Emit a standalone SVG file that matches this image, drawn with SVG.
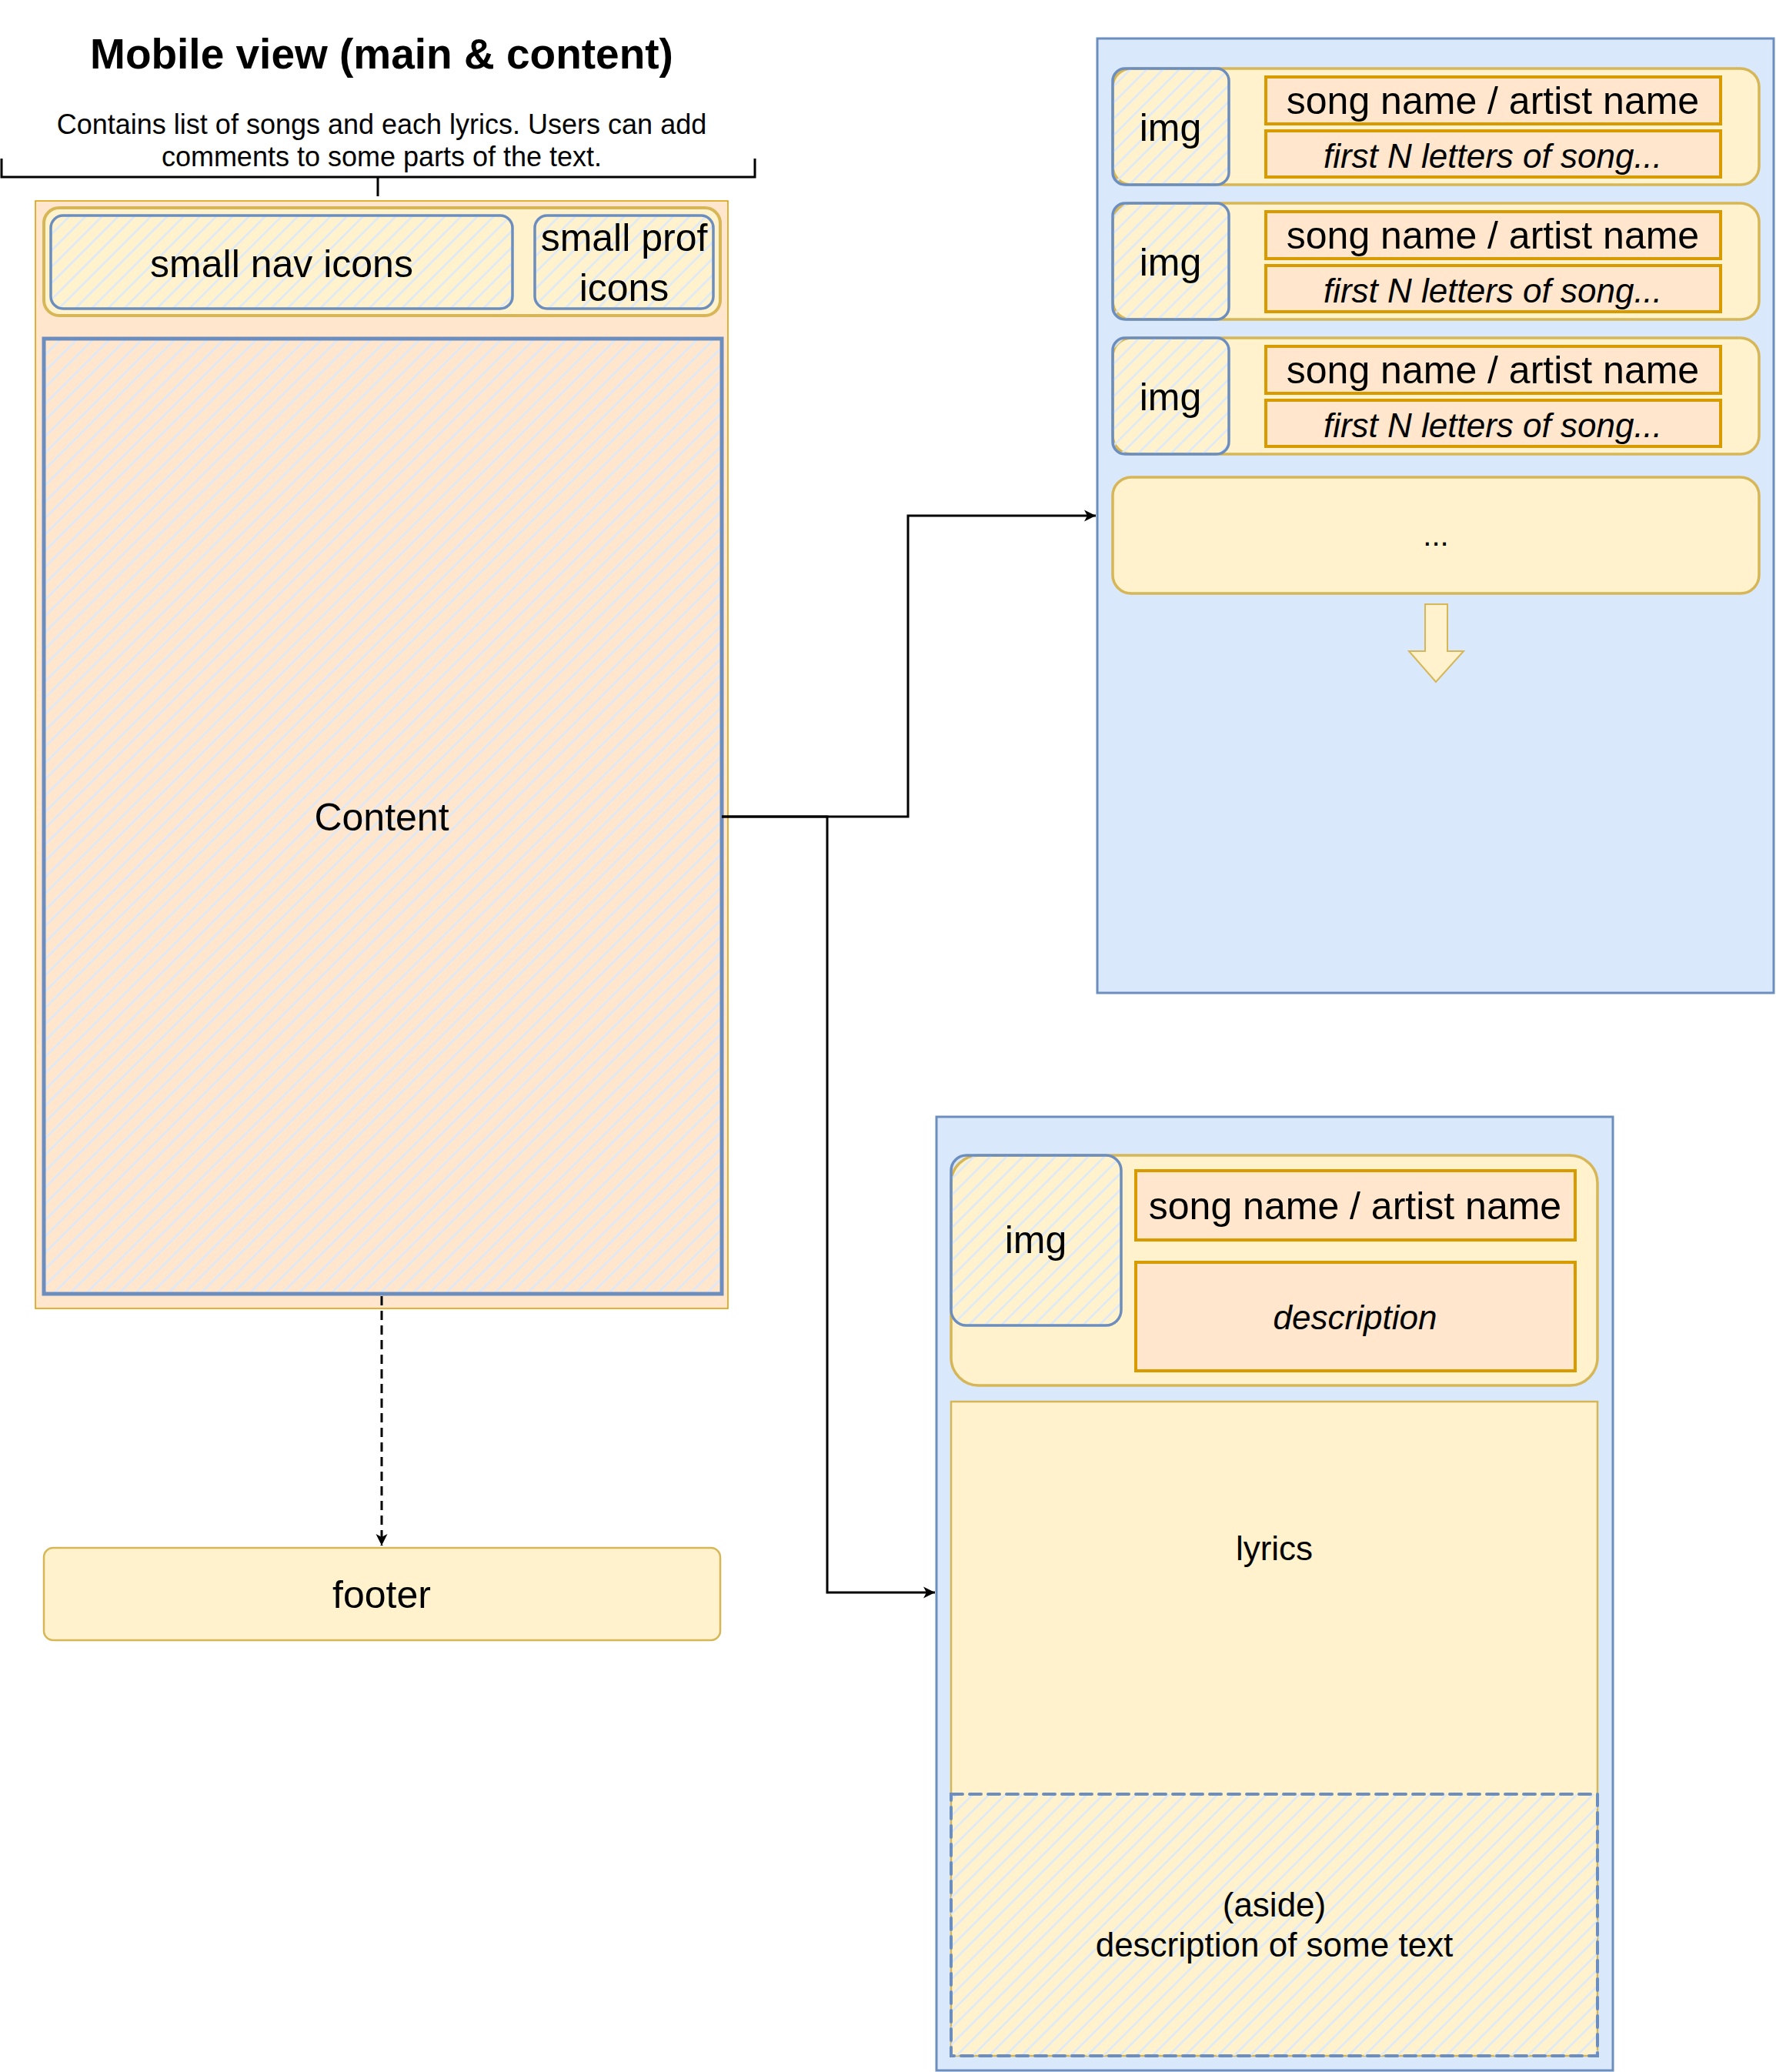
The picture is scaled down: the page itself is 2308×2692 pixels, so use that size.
<svg xmlns="http://www.w3.org/2000/svg" width="2308" height="2692" viewBox="0 0 2308 2692">
  <defs>
    <!-- light-blue diagonal hatch used on placeholder boxes -->
    <pattern id="hatch" patternUnits="userSpaceOnUse" width="15" height="15" patternTransform="rotate(45)">
      <line x1="7.5" y1="0" x2="7.5" y2="15" stroke="#dae8fc" stroke-width="2.4"/>
    </pattern>
    <marker id="arrow" viewBox="-16 -8 17 16" refX="0" refY="0" markerWidth="17" markerHeight="16" markerUnits="userSpaceOnUse" orient="auto">
      <path d="M-15,-7.5 L0,0 L-15,7.5 L-11,0 Z" fill="#000"/>
    </marker>
    <style>
      .lbl { font-family: "Liberation Sans", Arial, Helvetica, sans-serif; fill: #000; text-anchor: middle; }
      .f50 { font-size: 50px; }
      .f44 { font-size: 44px; }
      .it { font-style: italic; }
      .blueBox { fill: #dae8fc; stroke: #6c8ebf; stroke-width: 3; }
      .row { fill: #fff2cc; stroke: #d6b656; stroke-width: 3.5; }
      .field { fill: #ffe6cc; stroke: #d79b00; stroke-width: 4; }
      .ph { fill: url(#hatch); stroke: #6c8ebf; stroke-width: 3.5; }
      .wire { fill: none; stroke: #000; stroke-width: 3; }
    </style>
  </defs>

  <rect width="2308" height="2692" fill="#ffffff"/>

  <!-- heading and annotation bracket -->
  <g id="title">
    <text class="lbl" x="496" y="89" font-size="55" font-weight="bold">Mobile view (main &amp; content)</text>
    <text class="lbl" x="496" y="174" font-size="36">Contains list of songs and each lyrics. Users can add</text>
    <text class="lbl" x="496" y="216" font-size="36">comments to some parts of the text.</text>
    <path d="M2,206 V230 H981 V206 M491,230 V255" fill="none" stroke="#000" stroke-width="3"/>
  </g>

  <!-- mobile frame -->
  <g id="mobile-frame">
    <rect x="46" y="261" width="900" height="1439" fill="#ffe6cc" stroke="#d79b00" stroke-width="1.5"/>
  </g>

  <g id="header-bar">
    <rect x="57" y="270" width="879" height="140" rx="20" fill="#fff2cc" stroke="#d6b656" stroke-width="4"/>
  </g>

  <g id="nav-icons">
    <rect x="66" y="280" width="600" height="121" rx="16" class="ph"/>
    <text class="lbl f50" x="366" y="360">small nav icons</text>
  </g>

  <g id="prof-icons">
    <rect x="695" y="280" width="232" height="121" rx="16" class="ph"/>
    <text class="lbl f50" x="811" y="326">small prof</text>
    <text class="lbl f50" x="811" y="391">icons</text>
  </g>

  <g id="content">
    <rect x="57" y="440" width="881" height="1241" fill="url(#hatch)" stroke="#6c8ebf" stroke-width="5"/>
    <text class="lbl f50" x="496" y="1079">Content</text>
  </g>

  <g id="footer">
    <rect x="57" y="2011" width="879" height="120" rx="12" fill="#fff2cc" stroke="#d6b656" stroke-width="2.5"/>
    <text class="lbl f50" x="496" y="2089">footer</text>
  </g>

  <!-- song list screen -->
  <g id="song-list">
    <rect x="1426" y="50" width="879" height="1240" class="blueBox"/>
  </g>

  <g id="song-row-1">
    <rect x="1446" y="89" width="840" height="151" rx="24" class="row"/>
    <rect x="1446" y="89" width="151" height="151" rx="16" class="ph"/>
    <text class="lbl f50" x="1521" y="183">img</text>
    <rect x="1645" y="100" width="591" height="61" class="field"/>
    <text class="lbl f50" x="1940" y="148">song name / artist name</text>
    <rect x="1645" y="170" width="591" height="60" class="field"/>
    <text class="lbl f44 it" x="1940" y="218">first N letters of song...</text>
  </g>

  <g id="song-row-2">
    <rect x="1446" y="264" width="840" height="151" rx="24" class="row"/>
    <rect x="1446" y="264" width="151" height="151" rx="16" class="ph"/>
    <text class="lbl f50" x="1521" y="358">img</text>
    <rect x="1645" y="275" width="591" height="61" class="field"/>
    <text class="lbl f50" x="1940" y="323">song name / artist name</text>
    <rect x="1645" y="345" width="591" height="60" class="field"/>
    <text class="lbl f44 it" x="1940" y="393">first N letters of song...</text>
  </g>

  <g id="song-row-3">
    <rect x="1446" y="439" width="840" height="151" rx="24" class="row"/>
    <rect x="1446" y="439" width="151" height="151" rx="16" class="ph"/>
    <text class="lbl f50" x="1521" y="533">img</text>
    <rect x="1645" y="450" width="591" height="61" class="field"/>
    <text class="lbl f50" x="1940" y="498">song name / artist name</text>
    <rect x="1645" y="520" width="591" height="60" class="field"/>
    <text class="lbl f44 it" x="1940" y="568">first N letters of song...</text>
  </g>

  <g id="more-rows">
    <rect x="1446" y="620" width="840" height="151" rx="24" class="row"/>
    <text class="lbl" x="1866" y="709" font-size="40">...</text>
  </g>

  <g id="scroll-arrow">
    <polygon points="1852,785 1881,785 1881,846 1902,846 1866,886 1831,846 1852,846" fill="#fff2cc" stroke="#d6b656" stroke-width="2"/>
  </g>

  <!-- song detail screen -->
  <g id="song-detail">
    <rect x="1217" y="1451" width="879" height="1239" class="blueBox"/>
  </g>

  <g id="detail-header">
    <rect x="1236" y="1501" width="840" height="299" rx="36" class="row" stroke-width="4"/>
    <rect x="1236" y="1501" width="221" height="221" rx="20" class="ph"/>
    <text class="lbl f50" x="1346" y="1628">img</text>
    <rect x="1476" y="1521" width="571" height="90" class="field"/>
    <text class="lbl f50" x="1761" y="1584">song name / artist name</text>
    <rect x="1476" y="1640" width="571" height="141" class="field"/>
    <text class="lbl f44 it" x="1761" y="1727">description</text>
  </g>

  <g id="lyrics">
    <rect x="1236" y="1821" width="840" height="850" fill="#fff2cc" stroke="#d6b656" stroke-width="2.5"/>
    <text class="lbl f44" x="1656" y="2027">lyrics</text>
  </g>

  <g id="aside">
    <rect x="1236" y="2331" width="840" height="340" fill="url(#hatch)" stroke="#6c8ebf" stroke-width="4" stroke-dasharray="15 9" stroke-linecap="round"/>
    <text class="lbl f44" x="1656" y="2490">(aside)</text>
    <text class="lbl f44" x="1656" y="2542">description of some text</text>
  </g>

  <!-- connectors -->
  <g id="connectors">
    <path class="wire" d="M938,1061 H1180 V670 H1424" marker-end="url(#arrow)"/>
    <path class="wire" d="M938,1061 H1075 V2069 H1215" marker-end="url(#arrow)"/>
    <path class="wire" d="M496,1684 V2008" stroke-dasharray="12 7" marker-end="url(#arrow)"/>
  </g>
</svg>
